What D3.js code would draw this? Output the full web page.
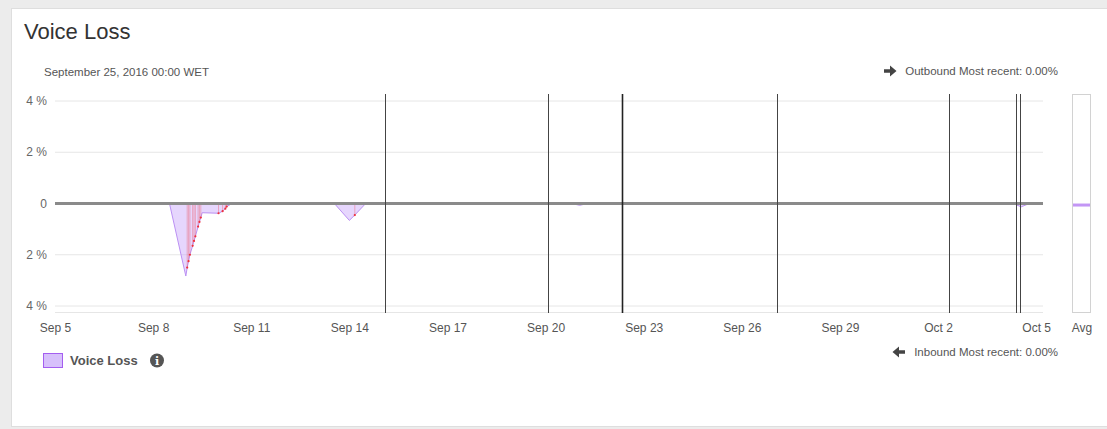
<!DOCTYPE html>
<html>
<head>
<meta charset="utf-8">
<script src="https://cdn.jsdelivr.net/npm/d3@7"></script>
<style>
  html, body { margin: 0; padding: 0; background: #ececec; }
  svg { display: block; font-family: "Liberation Sans", Arial, sans-serif; }
</style>
</head>
<body>
<script>
// inbound voice loss (%), drawn below the zero line
const lossTimes = [
  "2016-09-05T00:00", "2016-09-08T12:00", "2016-09-09T00:00", "2016-09-09T01:00",
  "2016-09-09T03:00", "2016-09-09T05:00", "2016-09-09T07:00", "2016-09-09T10:00",
  "2016-09-09T11:00", "2016-09-09T12:00", "2016-09-10T00:00", "2016-09-10T03:00",
  "2016-09-10T05:00", "2016-09-10T06:00", "2016-09-10T10:00", "2016-09-13T13:00",
  "2016-09-14T00:00", "2016-09-14T04:00", "2016-09-14T12:00", "2016-09-20T19:00",
  "2016-09-21T01:00", "2016-09-21T07:00", "2016-09-27T00:00", "2016-09-27T02:00",
  "2016-09-27T05:00", "2016-10-04T07:00", "2016-10-04T13:00", "2016-10-04T19:00",
  "2016-10-05T05:00"
];
const lossValues = [
  0, 0, 2.83, 2.5,
  2.0, 1.65, 1.28, 0.72,
  0.55, 0.36, 0.38, 0.3,
  0.2, 0.12, 0, 0,
  0.66, 0.45, 0, 0,
  0.07, 0, 0, 0.03,
  0, 0, 0.13, 0,
  0
];

// red flagged samples
const flagTimes = [
  "2016-09-07T04:00", "2016-09-09T01:00", "2016-09-09T02:00", "2016-09-09T03:00",
  "2016-09-09T05:00", "2016-09-09T06:00", "2016-09-09T07:00", "2016-09-09T09:00",
  "2016-09-09T10:00", "2016-09-09T11:00", "2016-09-10T00:00", "2016-09-10T03:00",
  "2016-09-10T05:00", "2016-09-10T06:00", "2016-09-13T05:30", "2016-09-14T04:00",
  "2016-09-15T01:00", "2016-09-20T05:30", "2016-09-21T05:00"
];
const flagValues = [
  0, 2.5, 2.25, 2.0,
  1.65, 1.46, 1.28, 0.9,
  0.72, 0.55, 0.38, 0.3,
  0.2, 0.12, 0, 0.45,
  0, 0, 0
];

// event markers
const eventTimes = [
  "2016-09-15T02:00", "2016-09-20T02:00", "2016-09-22T08:00", "2016-09-27T02:00",
  "2016-10-02T08:00", "2016-10-04T09:00", "2016-10-04T12:00"
];

const tickDates = [
  "2016-09-05", "2016-09-08", "2016-09-11", "2016-09-14", "2016-09-17", "2016-09-20",
  "2016-09-23", "2016-09-26", "2016-09-29", "2016-10-02", "2016-10-05"
];
const yTicks = [4, 2, 0, -2, -4];
const avgValue = 0.06;

const W = 1107, H = 429;
const parse = d3.utcParse("%Y-%m-%dT%H:%M");
const parseDay = d3.utcParse("%Y-%m-%d");

const svg = d3.select("body").append("svg")
  .attr("width", W).attr("height", H);

// panel
svg.append("rect")
  .attr("x", 11.5).attr("y", 8.5).attr("width", W).attr("height", 418)
  .attr("fill", "#fff").attr("stroke", "#dedede");

svg.append("text").attr("x", 24).attr("y", 39)
  .attr("font-size", 22).attr("fill", "#333").text("Voice Loss");

svg.append("text").attr("x", 44).attr("y", 76)
  .attr("font-size", 11.5).attr("fill", "#555").text("September 25, 2016 00:00 WET");

const x = d3.scaleUtc()
  .domain([parse("2016-09-05T00:00"), parse("2016-10-05T05:00")])
  .range([55, 1043]);
const y = d3.scaleLinear().domain([-4, 4]).range([306, 101]);
const plotTop = 94, plotBottom = 313;

// grid
svg.append("g").selectAll("line")
  .data(yTicks.filter(d => d !== 0))
  .join("line")
  .attr("x1", x.range()[0]).attr("x2", x.range()[1])
  .attr("y1", d => y(d)).attr("y2", d => y(d))
  .attr("stroke", "#e6e6e6");
svg.append("line")
  .attr("x1", x.range()[0]).attr("x2", x.range()[1])
  .attr("y1", plotBottom - 0.5).attr("y2", plotBottom - 0.5)
  .attr("stroke", "#e6e6e6");

// y labels
svg.append("g").selectAll("text")
  .data(yTicks)
  .join("text")
  .attr("x", 47).attr("y", d => y(d) + 4)
  .attr("text-anchor", "end")
  .attr("font-size", 12).attr("fill", "#666")
  .text(d => d === 0 ? "0" : Math.abs(d) + " %");

// x axis labels
const xAxis = d3.axisBottom(x)
  .tickValues(tickDates.map(parseDay))
  .tickFormat(d3.utcFormat("%b %-d"))
  .tickSize(0).tickPadding(0);
const gx = svg.append("g").attr("transform", `translate(0,${plotBottom + 10})`).call(xAxis);
gx.select(".domain").remove();
gx.selectAll("text").attr("font-size", 12).attr("fill", "#555")
  .attr("font-family", "Liberation Sans, Arial, sans-serif");

// area
const series = lossTimes.map((t, i) => ({ t: parse(t), v: -lossValues[i] }));
const area = d3.area().x(d => x(d.t)).y0(y(0)).y1(d => y(d.v));
svg.append("path").datum(series)
  .attr("d", area)
  .attr("fill", "rgba(200,165,250,0.45)")
  .attr("stroke", "#bb90f3").attr("stroke-width", 1);

// flagged samples
const flags = flagTimes.map((t, i) => ({ t: parse(t), v: -flagValues[i] }));
svg.append("g").selectAll("line")
  .data(flags)
  .join("line")
  .attr("x1", d => x(d.t)).attr("x2", d => x(d.t))
  .attr("y1", y(0)).attr("y2", d => y(d.v))
  .attr("stroke", "rgba(240,50,60,0.4)").attr("stroke-width", 0.8);
svg.append("g").selectAll("circle")
  .data(flags)
  .join("circle")
  .attr("cx", d => x(d.t)).attr("cy", d => y(d.v))
  .attr("r", 1.1).attr("fill", "#f0303a");

// zero line
svg.append("line")
  .attr("x1", x.range()[0]).attr("x2", x.range()[1])
  .attr("y1", y(0)).attr("y2", y(0))
  .attr("stroke", "#8a8a8a").attr("stroke-width", 3);

// event lines
svg.append("g").selectAll("line")
  .data(eventTimes.map(parse))
  .join("line")
  .attr("x1", d => Math.round(x(d)) + 0.5).attr("x2", d => Math.round(x(d)) + 0.5)
  .attr("y1", plotTop).attr("y2", plotBottom)
  .attr("stroke", (d, i) => i === 2 ? "#222" : "#444")
  .attr("stroke-width", (d, i) => i === 2 ? 1.6 : 1);

// avg column
svg.append("rect")
  .attr("x", 1072.5).attr("y", plotTop + 0.5).attr("width", 18).attr("height", plotBottom - plotTop - 1)
  .attr("fill", "#fff").attr("stroke", "#d2d2d2");
svg.append("rect")
  .attr("x", 1073).attr("y", y(-avgValue) - 1.5).attr("width", 17).attr("height", 3)
  .attr("fill", "#c396f5");
svg.append("text").attr("x", 1082).attr("y", plotBottom + 19)
  .attr("text-anchor", "middle").attr("font-size", 12).attr("fill", "#555").text("Avg");

// arrows and most-recent labels
function arrow(cx, cy, dir) {
  const g = svg.append("g").attr("transform", `translate(${cx},${cy}) scale(${dir},1)`);
  g.append("path")
    .attr("d", "M-6,-1.8 L0,-1.8 L0,-5.5 L6.5,0 L0,5.5 L0,1.8 L-6,1.8 Z")
    .attr("fill", "#444");
}
arrow(890, 71, 1);
svg.append("text").attr("x", 1058).attr("y", 75)
  .attr("text-anchor", "end").attr("font-size", 11.5).attr("fill", "#555")
  .text("Outbound Most recent: 0.00%");
arrow(899, 352, -1);
svg.append("text").attr("x", 1058).attr("y", 356)
  .attr("text-anchor", "end").attr("font-size", 11.5).attr("fill", "#555")
  .text("Inbound Most recent: 0.00%");

// legend
svg.append("rect").attr("x", 43.5).attr("y", 353.5).attr("width", 19).attr("height", 14)
  .attr("fill", "#d7c0fb").attr("stroke", "#a45ef0");
svg.append("text").attr("x", 70).attr("y", 365)
  .attr("font-size", 13).attr("font-weight", "bold").attr("fill", "#555").text("Voice Loss");
svg.append("circle").attr("cx", 157).attr("cy", 360.5).attr("r", 7).attr("fill", "#555");
svg.append("text").attr("x", 157).attr("y", 365)
  .attr("text-anchor", "middle").attr("font-size", 11).attr("font-weight", "bold")
  .attr("font-family", "DejaVu Serif, serif").attr("fill", "#fff").text("i");
</script>
</body>
</html>
